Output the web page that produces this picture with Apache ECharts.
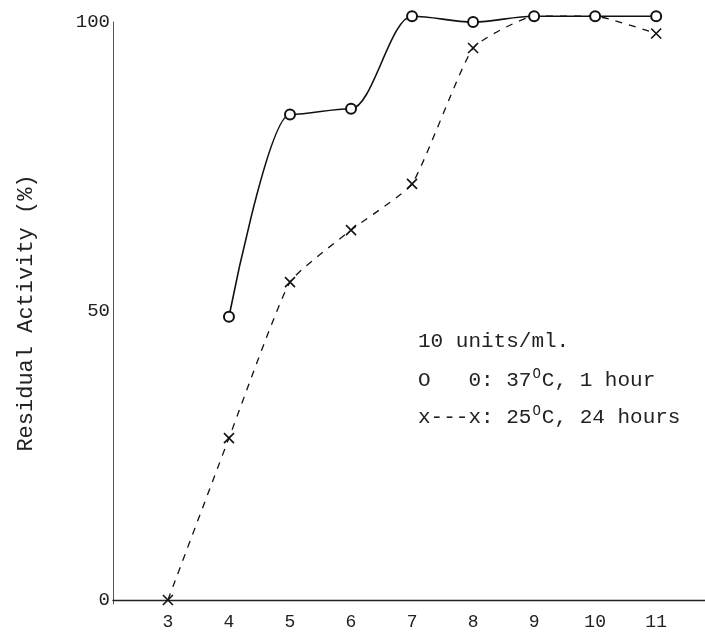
<!DOCTYPE html>
<html>
<head>
<meta charset="utf-8">
<script src="https://cdn.jsdelivr.net/npm/echarts@6/dist/echarts.min.js"></script>
<style>
  html, body { margin: 0; padding: 0; background: #fff; }
  #main { width: 705px; height: 634px; }
</style>
</head>
<body>
<div id="main"></div>
<script>
// pH values and residual activity (%)
var ph_values = [3, 4, 5, 6, 7, 8, 9, 10, 11];
var x_ticks = [3, 4, 5, 6, 7, 8, 9, 10, 11];
var y_ticks = [0, 50, 100];

// O---O : 37°C, 1 hour (no point at pH 3)
var act_37c = [null, 49, 84, 85, 101, 100, 101, 101, 101];
// x---x : 25°C, 24 hours
var act_25c = [0, 28, 55, 64, 72, 95.5, 101, 101, 98];
// the x marks at pH 9 and 10 sit under the circles in the original
var hide_25c_mark = [false, false, false, false, false, false, true, true, false];

var FONT = '"Liberation Mono", "DejaVu Sans Mono", monospace';

function pairs(xs, ys) {
    var out = [];
    for (var i = 0; i < xs.length; i++) {
        if (ys[i] != null) out.push([xs[i], ys[i]]);
    }
    return out;
}

function cross_data() {
    var out = [];
    for (var i = 0; i < ph_values.length; i++) {
        var item = {value: [ph_values[i], act_25c[i]]};
        if (hide_25c_mark[i]) item.symbol = 'none';
        out.push(item);
    }
    return out;
}

var mychart = echarts.init(document.getElementById('main'), null, {renderer: 'canvas'});

var supStyle = {s: {fontSize: 14, fontFamily: FONT, padding: [0, 1, 12, 1], fill: '#222'}};

var option = {
    backgroundColor: '#fff',
    animation: false,
    grid: {left: 113, right: 0, top: 22, bottom: 30, containLabel: false},
    xAxis: {
        type: 'value',
        min: 2.1,
        max: 11.8,
        axisLine: {show: true, lineStyle: {color: '#222', width: 1.3}},
        axisTick: {show: false},
        splitLine: {show: false},
        axisLabel: {
            customValues: x_ticks,
            margin: 9,
            color: '#222',
            fontFamily: FONT,
            fontSize: 18
        }
    },
    yAxis: {
        type: 'value',
        min: -0.7,
        max: 100,
        name: 'Residual Activity (%)',
        nameLocation: 'middle',
        nameGap: 76,
        nameTextStyle: {color: '#222', fontFamily: FONT, fontSize: 22},
        axisLine: {show: true, lineStyle: {color: '#555', width: 1}},
        axisTick: {show: false},
        splitLine: {show: false},
        axisLabel: {
            customValues: y_ticks,
            margin: 3,
            color: '#222',
            fontFamily: FONT,
            fontSize: 19,
            formatter: function (v) { return Math.round(v) + ''; }
        }
    },
    series: [
        {
            name: '37C',
            type: 'line',
            data: pairs(ph_values, act_37c),
            smooth: 0.35,
            smoothMonotone: 'x',
            clip: false,
            z: 3,
            symbol: 'emptyCircle',
            symbolSize: 10,
            lineStyle: {color: '#111', width: 1.6},
            itemStyle: {color: '#111', borderColor: '#111', borderWidth: 1.4}
        },
        {
            name: '25C',
            type: 'line',
            data: cross_data(),
            smooth: 0.15,
            clip: false,
            z: 2,
            symbol: 'path://M0,0L10,10M10,0L0,10',
            symbolSize: 10,
            lineStyle: {color: '#111', width: 1.3, type: [7, 7]},
            itemStyle: {color: 'none', borderColor: '#111', borderWidth: 1.6}
        }
    ],
    graphic: [
        {
            type: 'text', left: 418, top: 331,
            style: {text: '10 units/ml.', font: '21px ' + FONT, fill: '#222'}
        },
        {
            type: 'text', left: 418, top: 367,
            style: {
                text: 'O   0: 37{s|O}C, 1 hour',
                font: '21px ' + FONT, fill: '#222',
                rich: supStyle
            }
        },
        {
            type: 'text', left: 418, top: 404,
            style: {
                text: 'x---x: 25{s|O}C, 24 hours',
                font: '21px ' + FONT, fill: '#222',
                rich: supStyle
            }
        }
    ]
};

mychart.setOption(option);
</script>
</body>
</html>
